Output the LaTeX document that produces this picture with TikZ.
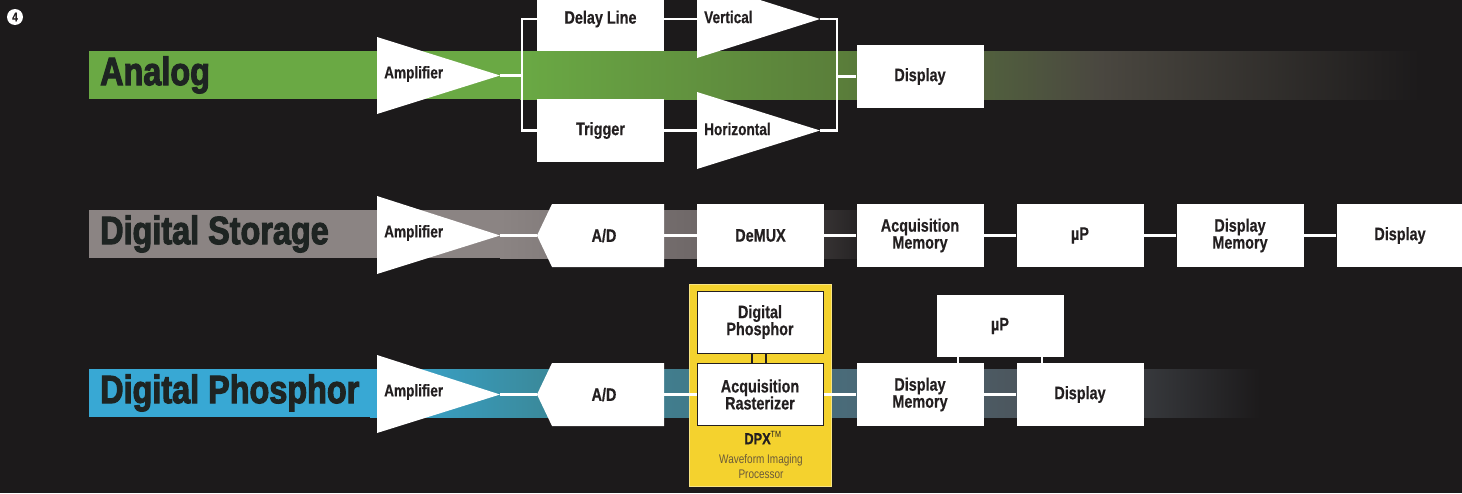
\documentclass[tikz,border=0pt]{standalone}
\usepackage{fontspec}
\setmainfont{Liberation Sans}
\newfontfamily\boxfam[FakeStretch=0.8]{Liberation Sans}
\newfontfamily\boxbfam[FakeStretch=0.8,FakeBold=0.5]{Liberation Sans}
\newfontfamily\ttlfam[FakeStretch=0.82,FakeBold=2.6]{Liberation Sans}
\newcommand{\boxf}{\boxbfam\bfseries\fontsize{18}{17}\selectfont}
\newcommand{\ampf}{\boxbfam\bfseries\fontsize{17}{17}\selectfont}
\newcommand{\titlef}{\ttlfam\bfseries\fontsize{39.5}{39.5}\selectfont}
\newcommand{\smallf}{\boxfam\fontsize{12.5}{15}\selectfont}
\definecolor{bg}{HTML}{1C1A1B}
\definecolor{txt}{HTML}{231F20}
\definecolor{ttlc}{HTML}{1E2422}
\definecolor{grn}{HTML}{6AA944}
\definecolor{olv}{HTML}{5A7E3A}
\definecolor{brn}{HTML}{4A4740}
\definecolor{gry}{HTML}{8B8483}
\definecolor{gry2}{HTML}{6E6767}
\definecolor{cyn}{HTML}{38A8D4}
\definecolor{teal}{HTML}{3A8A9C}
\definecolor{slate}{HTML}{4A6A78}
\definecolor{ash}{HTML}{4D5258}
\definecolor{ylw}{HTML}{F4D22E}
\definecolor{dpxt}{HTML}{6B5A3A}
\begin{document}
\begin{tikzpicture}[x=1pt,y=-1pt,
  blk/.style={fill=white, draw=none, minimum width=127pt, minimum height=63pt, inner sep=0pt, font=\boxf, text=txt, align=center},
  inblk/.style={blk, draw=txt, line width=1pt, minimum width=126pt, minimum height=62pt},
  wire/.style={draw=white, line width=2.5pt},
  ttl/.style={font=\titlef, text=ttlc, anchor=west, inner sep=0pt},
  lbl/.style={font=\ampf, text=txt, anchor=west, inner sep=0pt},
  amp/.style={fill=white, draw=none}]
\useasboundingbox (0,0) rectangle (1462,493);
\clip (0,0) rectangle (1462,493);
\fill[bg] (0,0) rectangle (1462,493);

% ---------- bands ----------
% Analog
\fill[grn] (89,51) rectangle (521,99);
\shade[left color=grn, right color=olv] (520,51) rectangle (841,99);
\shade[left color=olv, right color=brn] (840,51) rectangle (1101,99);
\shade[left color=brn, right color=bg] (1100,51) rectangle (1420,99);
% Digital storage
\fill[gry] (89,210) rectangle (501,258);
\shade[left color=gry, right color=gry2] (500,210) rectangle (701,258);
\shade[left color=gry2, right color=bg] (700,210) rectangle (880,258);
% Digital phosphor
\fill[cyn] (89,369) rectangle (371,417);
\shade[left color=cyn, right color=teal] (370,369) rectangle (541,417);
\shade[left color=teal, right color=slate] (540,369) rectangle (851,417);
\shade[left color=slate, right color=ash] (850,369) rectangle (1051,417);
\shade[left color=ash, right color=bg] (1050,369) rectangle (1260,417);

% ---------- titles ----------
\node[ttl] (tA) at (100,75) {Analog};
\node[ttl] (tD) at (100,234) {Digital Storage};
\node[ttl] (tP) at (100,393) {Digital Phosphor};

% circled 4
\node[circle, fill=white, minimum size=16pt, inner sep=0pt, font=\boxbfam\bfseries\fontsize{12.5}{12.5}\selectfont, text=txt] (num) at (15,17) {4};

% ---------- row 1: analog ----------
\fill[amp] (377,37) -- (500,75.5) -- (377,114) -- cycle;
\coordinate (a1tip) at (500,75.5);
\node[lbl] (a1) at (384,74) {Amplifier};

\node[blk] (dl) at (600.5,19) {Delay Line};
\node[blk] (tr) at (600.5,130.5) {Trigger};
\node[blk] (d1) at (920,76.5) {Display};

\fill[amp] (697,-20) -- (820,19) -- (697,58) -- cycle;
\coordinate (vin) at (697,19);
\coordinate (vtip) at (820,19);
\node[lbl] (vl) at (704,17) {Vertical};
\fill[amp] (697,92) -- (820,130.5) -- (697,169) -- cycle;
\coordinate (hin) at (697,130.5);
\coordinate (htip) at (820,130.5);
\node[lbl] (hl) at (704,129) {Horizontal};

\coordinate (b1) at (522,75.5);
\coordinate (b1t) at (522,19);
\coordinate (b1b) at (522,130.5);
\coordinate (b2t) at (837,19);
\coordinate (b2b) at (837,130.5);
\coordinate (b2m) at (837,76.5);
\draw[wire] (a1tip) -- (b1);
\draw[wire] (dl.west) -- (b1t) -- (b1b) -- (tr.west);
\draw[wire] (dl.east) -- (vin);
\draw[wire] (tr.east) -- (hin);
\draw[wire] (vtip) -- (b2t) -- (b2b) -- (htip);
\draw[wire] (b2m) -- (d1.west);

% ---------- row 2: digital storage ----------
\fill[amp] (377,196) -- (500,235.5) -- (377,274) -- cycle;
\coordinate (a2tip) at (500,235.5);
\node[lbl] (a2) at (384,233) {Amplifier};
\fill[amp] (537,235.5) -- (552,204) -- (664,204) -- (664,267) -- (552,267) -- cycle;
\coordinate (ad2in) at (537,235.5);
\coordinate (ad2out) at (664,235.5);
\node[font=\boxf, text=txt, inner sep=0pt] (ad2) at (604,235.5) {A/D};
\node[blk] (dmx) at (760.5,235.5) {DeMUX};
\node[blk] (am) at (920,235.5) {Acquisition\\Memory};
\node[blk] (up2) at (1080,235.5) {µP};
\node[blk] (dm2) at (1240,235.5) {Display\\Memory};
\node[blk] (d2) at (1400,235.5) {Display};
\draw[wire] (a2tip) -- (ad2in);
\draw[wire] (ad2out) -- (dmx.west);
\draw[wire] (dmx) -- (am);
\draw[wire] (am) -- (up2);
\draw[wire] (up2) -- (dm2);
\draw[wire] (dm2) -- (d2);

% ---------- row 3: digital phosphor ----------
\fill[amp] (377,355) -- (500,394.5) -- (377,433) -- cycle;
\coordinate (a3tip) at (500,394.5);
\node[lbl] (a3) at (384,392) {Amplifier};
\fill[amp] (537,394.5) -- (552,363) -- (664,363) -- (664,426) -- (552,426) -- cycle;
\coordinate (ad3in) at (537,394.5);
\coordinate (ad3out) at (664,394.5);
\node[font=\boxf, text=txt, inner sep=0pt] (ad3) at (604,394.5) {A/D};

\node[fill=ylw, draw=ylw!60!white, line width=1pt, minimum width=142pt, minimum height=202pt, inner sep=0pt] (dpx) at (760,385) {};
\node[inblk] (dp) at (760,322) {Digital\\Phosphor};
\node[inblk] (ar) at (760,394.5) {Acquisition\\Rasterizer};
\draw[draw=txt, line width=1.5pt] ([xshift=-8pt]dp.south) -- ([xshift=-8pt]ar.north);
\draw[draw=txt, line width=1.5pt] ([xshift=6pt]dp.south) -- ([xshift=6pt]ar.north);
\node[font=\boxbfam\bfseries\fontsize{16}{16}\selectfont, text=txt, inner sep=0pt] (dpxl) at (763,438) {DPX\textsuperscript{\boxfam\mdseries\fontsize{9}{9}\selectfont TM}};
\node[font=\smallf, text=dpxt, align=center, inner sep=0pt] (dpxs) at (761,467) {Waveform Imaging\\Processor};

\node[blk] (dm3) at (920,394.5) {Display\\Memory};
\node[blk] (d3) at (1080,394.5) {Display};
\node[blk, minimum height=62pt] (up3) at (1000,326) {µP};
\draw[wire] (a3tip) -- (ad3in);
\draw[wire] (ad3out) -- (ar.west);
\draw[wire] (ar.east) -- (dm3.west);
\draw[wire] (dm3) -- (d3);
\draw[wire] (up3.south -| 958,0) -- (dm3.north -| 958,0);
\draw[wire] (up3.south -| 1042,0) -- (d3.north -| 1042,0);
\end{tikzpicture}
\end{document}
